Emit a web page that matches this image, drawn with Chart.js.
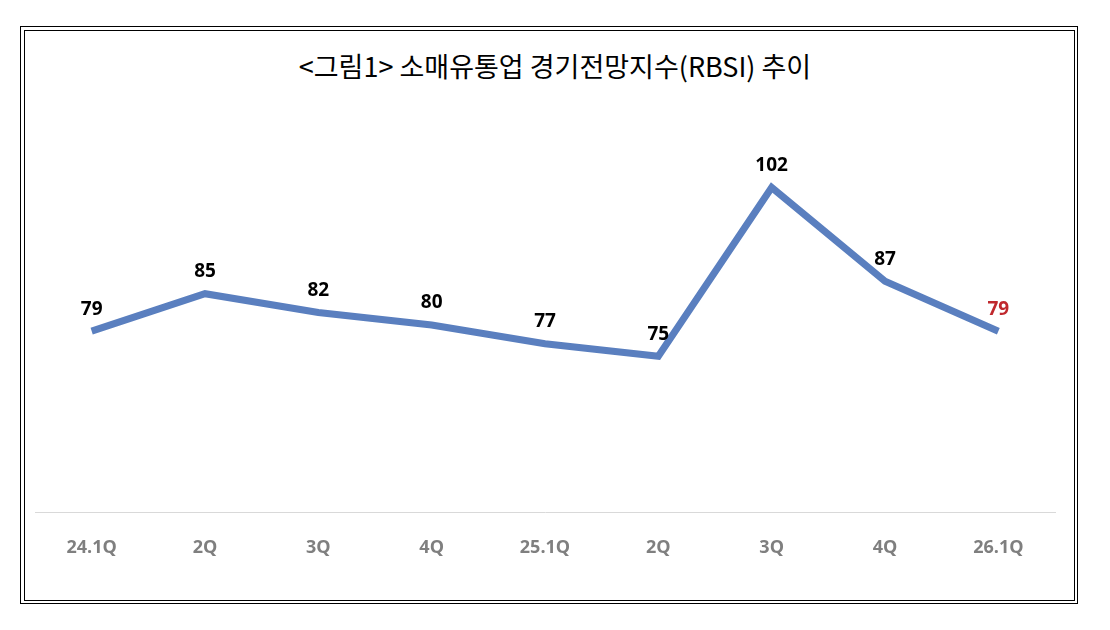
<!DOCTYPE html>
<html><head><meta charset="utf-8">
<script src="https://cdn.jsdelivr.net/npm/chart.js@4"></script>
<style>
body{margin:0;width:1110px;height:630px;background:#fff;position:relative;overflow:hidden}
#f1{position:absolute;left:20px;top:26px;width:1056px;height:576px;border:1.5px solid #000}
#f2{position:absolute;left:24px;top:30px;width:1049px;height:569px;border:1px solid #000}
#t{position:absolute;left:0;width:1110px;top:46px;text-align:center;font:27px "Noto Sans CJK KR";color:#000}
canvas{position:absolute;left:0;top:0}
</style></head><body>
<div id="f1"></div><div id="f2"></div>
<div id="t">&lt;그림1&gt; 소매유통업 경기전망지수(RBSI) 추이</div>
<canvas id="c" width="1110" height="630"></canvas>
<script>
const categories = ['24.1Q','2Q','3Q','4Q','25.1Q','2Q','3Q','4Q','26.1Q'];
const rbsi = [79,85,82,80,77,75,102,87,79];
const labelColors = ['#000','#000','#000','#000','#000','#000','#000','#000','#c0282d'];

const valueLabels = {
  id: 'valueLabels',
  afterDatasetsDraw(chart) {
    const ctx = chart.ctx;
    ctx.save();
    ctx.font = 'bold 19px "Open Sans"';
    ctx.textAlign = 'center';
    ctx.textBaseline = 'middle';
    chart.getDatasetMeta(0).data.forEach((p, i) => {
      ctx.fillStyle = labelColors[i];
      ctx.fillText(rbsi[i], p.x, p.y - 22);
    });
    ctx.restore();
  }
};

new Chart(document.getElementById('c'), {
  type: 'line',
  data: {
    labels: categories,
    datasets: [{
      data: rbsi,
      borderColor: '#5a7fbf',
      borderWidth: 7,
      pointRadius: 0,
      tension: 0
    }]
  },
  options: {
    responsive: false,
    animation: false,
    layout: { padding: { left: 35, right: 55, top: 75, bottom: 46 } },
    plugins: { legend: { display: false }, tooltip: { enabled: false } },
    scales: {
      x: {
        offset: true,
        grid: { display: false, drawTicks: false },
        border: { display: true, color: '#d9d9d9', width: 1 },
        ticks: { padding: 25, color: '#7f7f7f', font: { family: 'Open Sans', size: 18, weight: 'bold' } }
      },
      y: { display: false, min: 50, max: 120 }
    }
  },
  plugins: [valueLabels]
});
</script>
</body></html>
